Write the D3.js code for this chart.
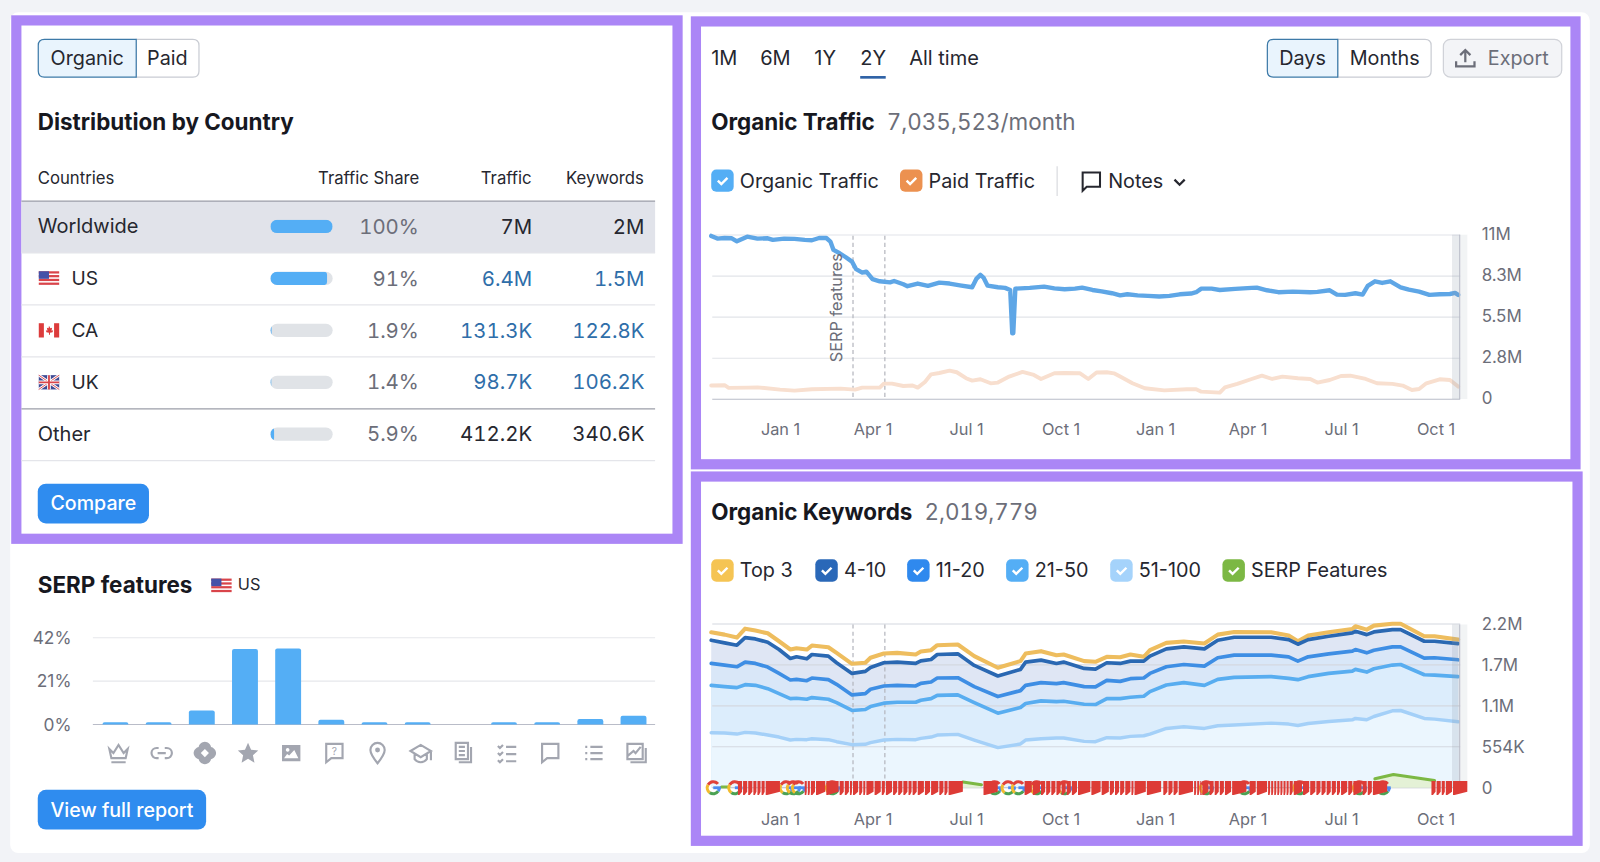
<!DOCTYPE html>
<html>
  <head>
    <meta charset="UTF-8" />
    <style>
      html, body { margin: 0; padding: 0; background: #f2f3f7; overflow: hidden; }
      svg { display: block; font-family: Inter, 'Noto Sans', sans-serif; }
      .tick line { display: none; }
      .domain { display: none; }
      .num { font-variant-numeric: tabular-nums; }
    </style>
  </head>
  <body>
    <svg></svg>
    <script src="https://d3js.org/d3.v7.min.js"></script>
    <script>
      // table
      const countries = ['Worldwide', 'US', 'CA', 'UK', 'Other']
      const trafficShare = [100, 91, 1.9, 1.4, 5.9]
      const shareLabels = ['100%', '91%', '1.9%', '1.4%', '5.9%']
      const trafficLabels = ['7M', '6.4M', '131.3K', '98.7K', '412.2K']
      const keywordLabels = ['2M', '1.5M', '122.8K', '106.2K', '340.6K']

      // serp features bars
      const serpIcons = ['crown', 'link', 'spark', 'star', 'image', 'faq', 'pin', 'school', 'news', 'checks', 'comment', 'list', 'gallery']
      const serpShare = [1.1, 1.1, 6.8, 36.6, 36.8, 2.3, 1.1, 1.1, 0, 1.1, 1.1, 2.6, 4.2]

      // organic traffic, in millions
      const organicDates = ['2021-10-26','2021-11-01','2021-11-08','2021-11-15','2021-11-20','2021-11-30','2021-12-10','2021-12-20','2021-12-25','2022-01-05','2022-01-15','2022-01-25','2022-02-01','2022-02-08','2022-02-15','2022-02-19','2022-02-22','2022-02-28','2022-03-06','2022-03-12','2022-03-16','2022-03-22','2022-03-26','2022-04-01','2022-04-08','2022-04-18','2022-04-22','2022-05-01','2022-05-05','2022-05-15','2022-05-25','2022-06-05','2022-06-15','2022-06-25','2022-07-07','2022-07-11','2022-07-15','2022-07-18','2022-07-22','2022-08-01','2022-08-08','2022-08-13','2022-08-15','2022-08-16','2022-08-18','2022-09-01','2022-09-15','2022-09-25','2022-10-05','2022-10-15','2022-10-22','2022-11-01','2022-11-10','2022-11-20','2022-11-28','2022-12-05','2022-12-15','2022-12-25','2023-01-05','2023-01-15','2023-01-25','2023-02-05','2023-02-10','2023-02-15','2023-02-25','2023-03-05','2023-03-20','2023-04-05','2023-04-10','2023-04-20','2023-05-01','2023-05-15','2023-06-01','2023-06-08','2023-06-20','2023-06-27','2023-07-05','2023-07-15','2023-07-22','2023-07-27','2023-08-03','2023-08-10','2023-08-18','2023-08-28','2023-09-05','2023-09-15','2023-09-25','2023-10-05','2023-10-15','2023-10-20','2023-10-23']
      const organicTraffic = [10.94,10.76,10.8,10.78,10.58,10.89,10.76,10.78,10.67,10.76,10.74,10.67,10.65,10.8,10.8,10.56,10.0,9.78,9.51,9.22,8.71,8.48,8.55,8.04,7.9,7.83,7.92,7.7,7.57,7.75,7.59,7.81,7.75,7.63,7.5,8.06,8.33,8.15,7.61,7.5,7.46,7.32,4.42,4.42,7.41,7.46,7.54,7.43,7.37,7.41,7.48,7.32,7.23,7.1,6.96,7.03,6.96,6.92,6.88,6.92,7.03,7.08,7.17,7.41,7.41,7.32,7.39,7.46,7.48,7.3,7.17,7.21,7.17,7.19,7.3,7.01,6.99,7.1,7.01,7.59,7.9,7.79,7.9,7.5,7.34,7.21,6.99,7.03,7.05,7.12,6.99]

      // paid traffic, in millions
      const paidDates = ['2021-10-26','2021-11-08','2021-11-12','2021-12-01','2021-12-10','2022-01-01','2022-01-15','2022-02-01','2022-03-01','2022-03-15','2022-03-22','2022-03-30','2022-04-08','2022-04-12','2022-04-20','2022-05-01','2022-05-10','2022-05-15','2022-05-22','2022-05-28','2022-06-05','2022-06-15','2022-06-22','2022-07-01','2022-07-07','2022-07-15','2022-07-25','2022-08-01','2022-08-12','2022-08-25','2022-09-05','2022-09-12','2022-09-25','2022-10-05','2022-10-20','2022-10-28','2022-11-05','2022-11-15','2022-11-22','2022-11-28','2022-12-10','2022-12-22','2023-01-10','2023-02-01','2023-02-10','2023-02-15','2023-03-05','2023-03-10','2023-03-22','2023-04-05','2023-04-15','2023-04-25','2023-05-05','2023-05-20','2023-06-01','2023-06-08','2023-06-20','2023-07-01','2023-07-10','2023-07-25','2023-08-05','2023-08-20','2023-08-30','2023-09-08','2023-09-15','2023-09-22','2023-10-05','2023-10-15','2023-10-23']
      const paidTraffic = [0.92,0.94,0.76,0.78,0.8,0.65,0.58,0.67,0.71,0.65,0.78,0.78,0.78,1.05,1.05,0.89,0.92,0.78,1.16,1.67,1.76,1.92,1.81,1.41,1.25,1.34,1.07,1.12,1.52,1.83,1.63,1.36,1.74,1.76,1.74,1.36,1.79,1.81,1.74,1.52,1.07,0.74,0.6,0.67,0.67,0.51,0.45,0.8,1.03,1.36,1.58,1.36,1.52,1.41,1.36,1.12,1.29,1.56,1.58,1.36,1.07,1.03,0.92,0.62,0.69,1.07,1.34,1.29,0.85]

      // organic keywords, in thousands
      const keywordDates = ['2021-10-26','2021-11-08','2021-11-20','2021-11-28','2021-12-08','2021-12-20','2021-12-31','2022-01-11','2022-01-17','2022-01-27','2022-02-01','2022-02-17','2022-02-25','2022-03-12','2022-03-25','2022-03-30','2022-04-12','2022-04-25','2022-05-13','2022-05-18','2022-05-28','2022-06-03','2022-06-23','2022-07-09','2022-08-01','2022-08-23','2022-08-28','2022-09-12','2022-09-27','2022-10-04','2022-10-24','2022-11-04','2022-11-15','2022-11-28','2022-12-08','2022-12-21','2022-12-27','2023-01-12','2023-01-29','2023-02-18','2023-03-03','2023-03-19','2023-04-24','2023-05-11','2023-05-20','2023-05-30','2023-06-19','2023-07-12','2023-07-15','2023-07-26','2023-08-02','2023-08-20','2023-08-28','2023-09-20','2023-09-30','2023-10-23']
      const top3 = [2088,2057,2017,2137,2111,2075,1968,1857,1875,1857,1910,1888,1812,1665,1679,1746,1803,1812,1790,1830,1848,1915,1924,1768,1612,1701,1803,1835,1781,1790,1701,1692,1759,1754,1790,1759,1848,1946,1964,1937,2057,2093,2088,2044,1968,2044,2088,2133,2169,2124,2178,2204,2204,2035,2035,1990]
      const pos4to10 = [1982,1946,1915,2017,1999,1955,1857,1737,1759,1732,1790,1768,1679,1536,1563,1616,1679,1688,1670,1705,1723,1790,1799,1643,1501,1590,1688,1714,1670,1688,1603,1594,1679,1670,1701,1701,1768,1866,1893,1866,1982,2022,2022,1990,1928,1990,2035,2080,2102,2057,2093,2124,2124,1968,1968,1937]
      const pos11to20 = [1670,1648,1625,1688,1670,1621,1536,1447,1456,1438,1474,1452,1389,1247,1265,1323,1367,1376,1367,1403,1420,1474,1478,1358,1225,1305,1376,1412,1398,1412,1358,1354,1443,1429,1465,1474,1536,1625,1656,1634,1746,1781,1781,1759,1701,1759,1799,1835,1857,1812,1848,1893,1893,1741,1746,1719]
      const pos21to50 = [1376,1358,1345,1385,1376,1331,1265,1198,1202,1189,1211,1189,1144,1038,1051,1091,1136,1149,1149,1176,1198,1242,1247,1144,1002,1078,1131,1167,1158,1162,1122,1118,1198,1198,1216,1229,1291,1380,1412,1376,1456,1483,1492,1469,1452,1492,1536,1567,1590,1554,1599,1648,1656,1518,1514,1492]
      const pos51to100 = [739,735,721,744,735,708,681,641,650,646,659,646,619,579,583,606,641,650,646,663,681,708,717,641,539,588,641,659,668,668,623,619,672,668,690,699,721,797,819,797,833,842,868,855,837,864,891,913,931,913,957,1033,1038,931,922,886]

      // serp features line, null where it is not drawn
      const serpDates = ['2021-11-05','2021-11-11','2021-11-12','2022-06-28','2022-07-16','2022-07-17','2023-08-03','2023-08-21','2023-09-30']
      const serpKeywords = [10, 10, null, 76, 40, null, 120, 178, 98]

      // google update markers, days after the first date
      const flagDays = [26,31,36,41,45,49,53,91,94,97,102,112,125,130,135,138,144,148,151,159,166,170,177,182,187,192,196,201,208,214,222,227,231,265,305,313,321,326,331,336,341,346,351,357,370,380,388,393,398,403,409,412,424,440,445,450,455,470,473,476,478,485,490,495,500,507,524,531,542,545,548,551,554,557,560,563,567,576,583,589,594,599,604,609,613,620,625,634,639,644,701,706,711,715,722]
      const googleDays = [2,23,73,80,85,118,276,289,299,317,344,482,519,573,631,654]

      const timeLabels = ['2022-01-01','2022-04-01','2022-07-01','2022-10-01','2023-01-01','2023-04-01','2023-07-01','2023-10-01']
      const noteDates = ['2022-03-13','2022-04-13']
      const trafficTicks = [0, 2.75, 5.5, 8.25, 11]
      const trafficTickLabels = ['0', '2.8M', '5.5M', '8.3M', '11M']
      const keywordTicks = [0, 550, 1100, 1650, 2200]
      const keywordTickLabels = ['0', '554K', '1.1M', '1.7M', '2.2M']

      const parseDay = d3.utcParse('%Y-%m-%d')
      const svg = d3.select('svg').attr('width', 1600).attr('height', 862)
      const root = svg.append('g').attr('transform', 'scale(' + 1600 / 1568 + ')')

      const grey = '#6c6e79'
      const ink = '#17181f'
      const purple = '#ab86f6'

      function label(g, x, y, str, size, fill, opts) {
        opts = opts || {}
        return g
          .append('text')
          .attr('class', opts.num ? 'num' : null)
          .attr('x', x)
          .attr('y', y)
          .attr('dy', '0.35em')
          .attr('font-size', size)
          .attr('fill', fill)
          .attr('font-weight', opts.weight || 400)
          .attr('text-anchor', opts.anchor || 'start')
          .text(str)
      }

      function box(g, x, y, w, h, fill, stroke, r) {
        return g
          .append('rect')
          .attr('x', x)
          .attr('y', y)
          .attr('width', w)
          .attr('height', h)
          .attr('rx', r === undefined ? 6 : r)
          .attr('fill', fill)
          .attr('stroke', stroke || 'none')
          .attr('stroke-width', stroke ? 1.2 : 0)
      }

      // button with rounded corners on one side only
      function segment(g, x, y, w, h, fill, stroke, side) {
        const r = 6
        const d =
          side === 'left'
            ? 'M' + (x + w) + ',' + y + 'H' + (x + r) + 'q' + -r + ',0,' + -r + ',' + r + 'V' + (y + h - r) + 'q0,' + r + ',' + r + ',' + r + 'H' + (x + w) + 'Z'
            : 'M' + x + ',' + y + 'H' + (x + w - r) + 'q' + r + ',0,' + r + ',' + r + 'V' + (y + h - r) + 'q0,' + r + ',' + -r + ',' + r + 'H' + x + 'Z'
        g.append('path').attr('d', d).attr('fill', fill).attr('stroke', stroke).attr('stroke-width', 1.2)
      }

      function checkbox(g, x, y, color, name) {
        box(g, x, y - 11, 22, 22, color, null, 5)
        g.append('path')
          .attr('d', 'M' + (x + 6.5) + ',' + y + 'l3.4,3.4l6,-6')
          .attr('fill', 'none')
          .attr('stroke', '#fff')
          .attr('stroke-width', 2.4)
        label(g, x + 28, y, name, 19.4, '#26272f')
      }

      function usFlag(g, x, y) {
        const f = g.append('g').attr('transform', 'translate(' + x + ',' + y + ')')
        box(f, 0, 0, 20, 14, '#fff', null, 0)
        d3.range(4).forEach((i) => box(f, 0, i * 3.7, 20, 2.2, '#d9444a', null, 0))
        box(f, 0, 0, 10, 7.4, '#4451a8', null, 0)
      }

      function caFlag(g, x, y) {
        const f = g.append('g').attr('transform', 'translate(' + x + ',' + y + ')')
        box(f, 0, 0, 20, 14, '#fff', null, 0)
        box(f, 0, 0, 5, 14, '#dc3c3c', null, 0)
        box(f, 15, 0, 5, 14, '#dc3c3c', null, 0)
        f.append('path').attr('d', 'M10,2.5l1.4,2.5l1.6,-.6l-.5,3l1.6,-.5l-.6,2l-2.5,.5v1.8h-1v-1.8l-2.5,-.5l-.6,-2l1.6,.5l-.5,-3l1.6,.6z').attr('fill', '#dc3c3c')
      }

      function ukFlag(g, x, y) {
        const f = g.append('g').attr('transform', 'translate(' + x + ',' + y + ')')
        box(f, 0, 0, 20, 14, '#3f4a94', null, 0)
        f.append('path').attr('d', 'M0,0L20,14M20,0L0,14').attr('stroke', '#fff').attr('stroke-width', 2.6)
        f.append('path').attr('d', 'M0,0L20,14M20,0L0,14').attr('stroke', '#d9444a').attr('stroke-width', 0.9)
        f.append('path').attr('d', 'M10,0V14M0,7H20').attr('stroke', '#fff').attr('stroke-width', 3.6)
        f.append('path').attr('d', 'M10,0V14M0,7H20').attr('stroke', '#d9444a').attr('stroke-width', 1.8)
      }

      // page
      box(root, 10, 12, 1548, 824, '#fff', null, 8)

      // purple frames
      ;[
        [16, 20, 648, 508],
        [682, 21, 862, 434],
        [682, 467, 864, 357],
      ].forEach((r) => {
        root.append('rect').attr('x', r[0]).attr('y', r[1]).attr('width', r[2]).attr('height', r[3]).attr('fill', 'none').attr('stroke', purple).attr('stroke-width', 10)
      })

      // left panel: table
      const left = root.append('g')
      segment(left, 133.5, 38.5, 61.5, 37, '#fff', '#c9ccd3', 'right')
      segment(left, 37.5, 38.5, 96, 37, '#e9f4fd', '#3d7aa8', 'left')
      label(left, 85.5, 57, 'Organic', 19.4, '#26272f', { anchor: 'middle' })
      label(left, 164, 57, 'Paid', 19.4, '#26272f', { anchor: 'middle' })
      label(left, 37, 120, 'Distribution by Country', 22, ink, { weight: 700 })

      label(left, 37, 175, 'Countries', 16.4, '#26272f')
      label(left, 411, 175, 'Traffic Share', 16.4, '#26272f', { anchor: 'end' })
      label(left, 521, 175, 'Traffic', 16.4, '#26272f', { anchor: 'end' })
      label(left, 631, 175, 'Keywords', 16.4, '#26272f', { anchor: 'end' })

      const rowY = d3.scaleBand().domain(countries).range([197, 451.5])
      const shareX = d3.scaleLinear().domain([0, 100]).range([0, 61])

      box(left, 21, 197, 621, 51, '#e1e3ea', null, 0)
      left.selectAll('line.row')
        .data(countries)
        .enter()
        .append('line')
        .attr('class', 'row')
        .attr('x1', 21)
        .attr('x2', 642)
        .attr('y1', (d) => rowY(d) + rowY.bandwidth())
        .attr('y2', (d) => rowY(d) + rowY.bandwidth())
        .attr('stroke', (d) => (d === 'UK' ? '#9b9ea8' : '#e4e5ea'))
        .attr('stroke-width', 1.2)
      left.append('line').attr('x1', 21).attr('x2', 642).attr('y1', 197).attr('y2', 197).attr('stroke', '#9b9ea8').attr('stroke-width', 1.2)

      countries.forEach((c, i) => {
        const y = rowY(c) + rowY.bandwidth() / 2 - 0.5
        const flagged = i >= 1 && i <= 3
        label(left, flagged ? 70 : 37, y, c, flagged ? 18.8 : 19.6, '#26272f')
        if (c === 'US') usFlag(left, 38, y - 7)
        if (c === 'CA') caFlag(left, 38, y - 7)
        if (c === 'UK') ukFlag(left, 38, y - 7)
        box(left, 265, y - 6.5, shareX(100), 13, '#e0e3e7', null, 6.5)
        left.append('clipPath').attr('id', 'share' + i).append('rect').attr('x', 265).attr('y', y - 6.5).attr('width', shareX(100)).attr('height', 13).attr('rx', 6.5)
        left.append('rect')
          .attr('clip-path', 'url(#share' + i + ')')
          .attr('x', 265)
          .attr('y', y - 6.5)
          .attr('width', shareX(trafficShare[i]))
          .attr('height', 13)
          .attr('rx', 3)
          .attr('fill', '#54aef5')
        label(left, 410.5, y, shareLabels[i], 20, grey, { anchor: 'end', num: true })
        const valueColor = flagged ? '#2f6ea9' : '#26272f'
        label(left, 521.5, y, trafficLabels[i], 20, valueColor, { anchor: 'end', num: true })
        label(left, 631.5, y, keywordLabels[i], 20, valueColor, { anchor: 'end', num: true })
      })

      box(left, 37, 474, 109, 39, '#2f8cef', null, 8)
      label(left, 91.5, 493.5, 'Compare', 19.2, '#fff', { anchor: 'middle', weight: 500 })

      // left panel: serp features
      const serp = root.append('g')
      label(serp, 37, 573, 'SERP features', 22, ink, { weight: 700 })
      usFlag(serp, 207, 567)
      label(serp, 233, 573, 'US', 16, '#26272f')

      const barX = d3.scaleBand().domain(serpIcons).range([92, 642]).paddingInner(0.4).paddingOuter(0.2)
      const barY = d3.scaleLinear().domain([0, 42]).range([710, 625])

      const serpAxis = d3.axisLeft(barY).tickValues([0, 21, 42]).tickFormat((d) => d + '%').tickSize(0).tickPadding(0)
      const serpAxisG = serp.append('g').attr('transform', 'translate(70,0)').call(serpAxis)
      serpAxisG.selectAll('text').attr('font-size', 17).attr('fill', grey).attr('font-family', 'Inter')
      serp.selectAll('line.grid')
        .data([0, 21, 42])
        .enter()
        .append('line')
        .attr('class', 'grid')
        .attr('x1', 91)
        .attr('x2', 642)
        .attr('y1', (d) => barY(d))
        .attr('y2', (d) => barY(d))
        .attr('stroke', (d) => (d === 0 ? '#b9bcc8' : '#e6e7eb'))
        .attr('stroke-width', 1.1)

      serp.selectAll('path.bar')
        .data(serpIcons)
        .enter()
        .append('path')
        .attr('class', 'bar')
        .attr('fill', '#54aef5')
        .attr('d', (d, i) => {
          const x = barX(d)
          const w = barX.bandwidth()
          const top = barY(serpShare[i])
          const h = barY(0) - top
          const r = Math.min(2, h)
          return 'M' + x + ',' + barY(0) + 'V' + (top + r) + 'q0,' + -r + ',' + r + ',' + -r + 'H' + (x + w - r) + 'q' + r + ',0,' + r + ',' + r + 'V' + barY(0) + 'Z'
        })

      const iconPaths = {
        crown: { s: 'M-9,-4L-5,0L0,-8L5,0L9,-4L7,5H-7ZM-7,9H7' },
        link: { s: 'M-3,-5H-5A5,5,0,0,0,-5,5H-3M3,-5H5A5,5,0,0,1,5,5H3M-4,0H4' },
        spark: { f: 'M0,-11C3,-11,6,-8,6,-6C8,-6,11,-3,11,0C11,3,8,6,6,6C6,8,3,11,0,11C-3,11,-6,8,-6,6C-8,6,-11,3,-11,0C-11,-3,-8,-6,-6,-6C-6,-8,-3,-11,0,-11ZM0,-4L-4,0L0,4L4,0Z', rule: 'evenodd' },
        star: { f: 'M0,-10L3,-3.3L10,-2.6L4.8,2.2L6.3,9.4L0,5.6L-6.3,9.4L-4.8,2.2L-10,-2.6L-3,-3.3Z' },
        image: { f: 'M-9,-8H9V8H-9ZM-7,5H7L3,-3L-2,2.5L-4,1ZM-3.5,-5A1.8,1.8,0,1,0,-3.49,-5Z', rule: 'evenodd' },
        faq: { s: 'M-8,-9H8V5H-3L-8,9Z', t: '?' },
        pin: { s: 'M0,10C-4,5,-7,1,-7,-3A7,7,0,0,1,7,-3C7,1,4,5,0,10Z', dot: [0, -3, 2.4] },
        school: { s: 'M-10,-2L0,-8L10,-2L0,4ZM-6,1V6C-3,10,3,10,6,6V1M10,-2V7' },
        news: { s: 'M-8,-10H4V6H-8ZM7,-6V9H-5M-5,-6H1M-5,-2H1M-5,2H1' },
        checks: { s: 'M-9,-7L-7,-5L-4,-8M-9,0L-7,2L-4,-1M-9,7L-7,9L-4,6M-1,-6H9M-1,1H9M-1,8H9' },
        comment: { s: 'M-8,-9H8V5H-3L-8,9Z' },
        list: { s: 'M-3,-6H9M-3,0H9M-3,6H9M-8,-6H-6M-8,0H-6M-8,6H-6' },
        gallery: { s: 'M-9,-9H6V6H-9ZM9,-5V9H-6M-9,3L-3,-2L-1,0L4,-6' },
      }
      serpIcons.forEach((name) => {
        const icon = iconPaths[name]
        const g = serp.append('g').attr('transform', 'translate(' + (barX(name) + barX.bandwidth() / 2 + 3) + ',738)')
        g.append('path')
          .attr('d', icon.s || icon.f)
          .attr('fill', icon.f ? '#a3a6b0' : 'none')
          .attr('fill-rule', icon.rule || 'nonzero')
          .attr('stroke', icon.s ? '#a3a6b0' : 'none')
          .attr('stroke-width', 2.1)
        if (icon.dot) g.append('circle').attr('cx', icon.dot[0]).attr('cy', icon.dot[1]).attr('r', icon.dot[2]).attr('fill', '#a3a6b0')
        if (icon.t) label(g, 0, -2, icon.t, 10, '#a3a6b0', { anchor: 'middle' })
      })

      box(serp, 37, 774, 165, 39, '#2f8cef', null, 8)
      label(serp, 119.5, 793.5, 'View full report', 19.2, '#fff', { anchor: 'middle', weight: 500 })

      // top right: controls
      const right = root.append('g')
      ;[['1M', 697], ['6M', 745], ['1Y', 798], ['2Y', 843], ['All time', 891]].forEach((d) => {
        label(right, d[1], 57, d[0], 19.6, '#26272f')
      })
      box(right, 843, 74.5, 25, 2.6, '#2f62a6', null, 0)

      segment(right, 1311, 38.5, 91.5, 37, '#fff', '#c9ccd3', 'right')
      segment(right, 1242, 38.5, 69, 37, '#e9f4fd', '#3d7aa8', 'left')
      label(right, 1276.5, 57, 'Days', 19.4, '#26272f', { anchor: 'middle' })
      label(right, 1357, 57, 'Months', 19.4, '#26272f', { anchor: 'middle' })
      box(right, 1414.5, 38.5, 116, 37, '#f3f4f7', '#d0d2d8', 7)
      right.append('path')
        .attr('d', 'M1427,60v5h18v-5M1436,61V49M1431,54l5,-5l5,5')
        .attr('fill', 'none')
        .attr('stroke', grey)
        .attr('stroke-width', 2.2)
      label(right, 1458, 57, 'Export', 19.4, grey)

      label(right, 697, 120, 'Organic Traffic', 22, ink, { weight: 700 })
      label(right, 869, 120, '7,035,523/month', 22, grey, { num: true }).attr('textLength', 185)

      checkbox(right, 697, 177, '#54aef5', 'Organic Traffic')
      checkbox(right, 882, 177, '#ec9150', 'Paid Traffic')
      right.append('line').attr('x1', 1036).attr('x2', 1036).attr('y1', 163).attr('y2', 192).attr('stroke', '#dadbe0').attr('stroke-width', 1.2)
      right.append('path').attr('d', 'M1061,169H1078V183H1065L1061,187Z').attr('fill', 'none').attr('stroke', '#26272f').attr('stroke-width', 2)
      label(right, 1086, 177, 'Notes', 19.4, '#26272f')
      right.append('path').attr('d', 'M1151,176l5,5l5,-5').attr('fill', 'none').attr('stroke', '#26272f').attr('stroke-width', 2.2)

      // shared x scale
      const x = d3.scaleUtc().domain([parseDay('2021-10-26'), parseDay('2023-10-23')]).range([697, 1429])

      function drawFrame(g, y, ticks, gridColor) {
        g.selectAll('line.grid')
          .data(ticks)
          .enter()
          .append('line')
          .attr('class', 'grid')
          .attr('x1', 698)
          .attr('x2', 1431)
          .attr('y1', (d) => y(d))
          .attr('y2', (d) => y(d))
          .attr('stroke', (d) => (d === 0 ? '#b9bcc8' : gridColor))
          .attr('stroke-width', 1.1)
      }

      function drawAxes(g, y, ticks, tickLabels, xLabelY, yShift) {
        const yAxis = d3.axisRight(y).tickValues(ticks).tickFormat((d, i) => tickLabels[i]).tickSize(0).tickPadding(0)
        const yG = g.append('g').attr('transform', 'translate(1452,' + yShift + ')').call(yAxis)
        yG.selectAll('text').attr('font-size', 16.6).attr('fill', grey).attr('font-family', 'Inter')
        const xAxis = d3.axisBottom(x).tickValues(timeLabels.map(parseDay)).tickFormat(d3.utcFormat('%b %-d')).tickSize(0).tickPadding(0)
        const xG = g.append('g').attr('transform', 'translate(0,' + (xLabelY - 6) + ')').call(xAxis)
        xG.selectAll('text').attr('font-size', 16).attr('fill', grey).attr('font-family', 'Inter')
      }

      function drawNotes(g, top, bottom) {
        g.selectAll('line.note')
          .data(noteDates)
          .enter()
          .append('line')
          .attr('class', 'note')
          .attr('x1', (d) => x(parseDay(d)))
          .attr('x2', (d) => x(parseDay(d)))
          .attr('y1', top)
          .attr('y2', bottom)
          .attr('stroke', '#b4b6be')
          .attr('stroke-width', 1.2)
          .attr('stroke-dasharray', '4 3')
      }

      function drawEdge(g, top, bottom) {
        box(g, 1423, top, 8, bottom - top, '#8d99a8', null, 0).attr('opacity', 0.2)
        box(g, 1431, top, 7, bottom - top, '#8d99a8', null, 0).attr('opacity', 0.11)
        g.append('line').attr('x1', 1430.5).attr('x2', 1430.5).attr('y1', top).attr('y2', bottom).attr('stroke', '#b9bcc8').attr('stroke-width', 1)
      }

      function drawLine(g, dates, values, yScale, color, width) {
        const line = d3
          .line()
          .defined((d) => d !== null)
          .x((d, i) => x(parseDay(dates[i])))
          .y((d) => yScale(d))
        g.append('path')
          .datum(values)
          .attr('d', line)
          .attr('fill', 'none')
          .attr('stroke', color)
          .attr('stroke-width', width)
          .attr('stroke-linejoin', 'round')
          .attr('stroke-linecap', 'round')
      }

      // organic traffic chart
      const traffic = root.append('g')
      const trafficY = d3.scaleLinear().domain([0, 11]).range([391.3, 230.3])
      drawFrame(traffic, trafficY, trafficTicks, '#e2e4e9')
      drawNotes(traffic, 231, 391)
      drawLine(traffic, paidDates, paidTraffic, trafficY, '#f8dfcf', 3.8)
      drawLine(traffic, organicDates, organicTraffic, trafficY, '#5ea6e6', 4.3)
      traffic.append('text')
        .attr('transform', 'translate(820,355) rotate(-90)')
        .attr('font-size', 16)
        .attr('fill', grey)
        .attr('dy', '0.35em')
        .text('SERP features')
      drawEdge(traffic, 230, 391)
      drawAxes(traffic, trafficY, trafficTicks, trafficTickLabels, 421, -1)

      // organic keywords chart
      const kw = root.append('g')
      label(kw, 697, 502, 'Organic Keywords', 22, ink, { weight: 700 })
      label(kw, 906, 502, '2,019,779', 22, grey, { num: true }).attr('textLength', 111)
      checkbox(kw, 697, 559, '#f5c453', 'Top 3')
      checkbox(kw, 799, 559, '#2a68b8', '4-10')
      checkbox(kw, 889, 559, '#2f89ee', '11-20')
      checkbox(kw, 986, 559, '#54aef5', '21-50')
      checkbox(kw, 1088, 559, '#a5d3fb', '51-100')
      checkbox(kw, 1198, 559, '#7cb844', 'SERP Features')

      const kwY = d3.scaleLinear().domain([0, 2200]).range([772, 611.5])
      const kwArea = d3
        .area()
        .x((d, i) => x(parseDay(keywordDates[i])))
        .y0(kwY(0))
        .y1((d) => kwY(d))

      ;[
        [pos4to10, '#dfe6f4'],
        [pos11to20, '#d9e7f8'],
        [pos21to50, '#dcedfc'],
        [pos51to100, '#ebf6fe'],
      ].forEach((s) => {
        kw.append('path').datum(s[0]).attr('d', kwArea).attr('fill', s[1])
      })
      drawFrame(kw, kwY, keywordTicks, '#d4d8e0')
      drawNotes(kw, 612, 772)
      drawLine(kw, keywordDates, pos51to100, kwY, '#a4d0f8', 3.4)
      drawLine(kw, keywordDates, pos21to50, kwY, '#58adf0', 3.6)
      drawLine(kw, keywordDates, pos11to20, kwY, '#3e8ee4', 3.6)
      drawLine(kw, keywordDates, top3, kwY, '#eebd5e', 4)
      drawLine(kw, keywordDates, pos4to10, kwY, '#2a68b2', 3.6)

      const serpArea = d3
        .area()
        .defined((d) => d !== null)
        .x((d, i) => x(parseDay(serpDates[i])))
        .y0(kwY(0))
        .y1((d) => kwY(d))
      kw.append('path').datum(serpKeywords).attr('d', serpArea).attr('fill', '#e4f1d6')
      drawLine(kw, serpDates, serpKeywords, kwY, '#7cb844', 3)
      drawEdge(kw, 612, 772)

      // google markers sit under the red flags
      const startDay = parseDay('2021-10-26')
      const dayX = (d) => x(d3.utcDay.offset(startDay, d))
      const gArc = d3.arc().innerRadius(4.4).outerRadius(7.4)
      const rad = Math.PI / 180
      const gParts = [
        ['#e0413a', -60, 50],
        ['#f2bb2e', -145, -60],
        ['#4ba253', -235, -145],
        ['#4b8bf0', 90, 125],
      ]
      kw.selectAll('g.google')
        .data(googleDays)
        .enter()
        .append('g')
        .attr('class', 'google')
        .attr('transform', (d) => 'translate(' + dayX(d) + ',772)')
        .each(function () {
          const g = d3.select(this)
          gParts.forEach((p) => {
            g.append('path').attr('d', gArc({ startAngle: p[1] * rad, endAngle: p[2] * rad })).attr('fill', p[0])
          })
          g.append('rect').attr('x', 0).attr('y', -1.4).attr('width', 7.4).attr('height', 2.8).attr('fill', '#4b8bf0')
        })

      const flagTop = 765.5
      const flagBottom = 779
      kw.selectAll('path.flag')
        .data(flagDays)
        .enter()
        .append('path')
        .attr('class', 'flag')
        .attr('fill', '#dd3b36')
        .attr('d', (d, i) => {
          const x0 = dayX(d)
          const next = i + 1 < flagDays.length ? dayX(flagDays[i + 1]) - 1 : x0 + 14
          const w = Math.min(next - x0, 14)
          return 'M' + x0 + ',' + flagTop + 'h' + w + 'V' + (flagBottom - 3) + 'L' + (x0 + 1.5) + ',' + flagBottom + 'H' + x0 + 'Z'
        })

      drawAxes(kw, kwY, keywordTicks, keywordTickLabels, 803, 0)
    </script>
  </body>
</html>
